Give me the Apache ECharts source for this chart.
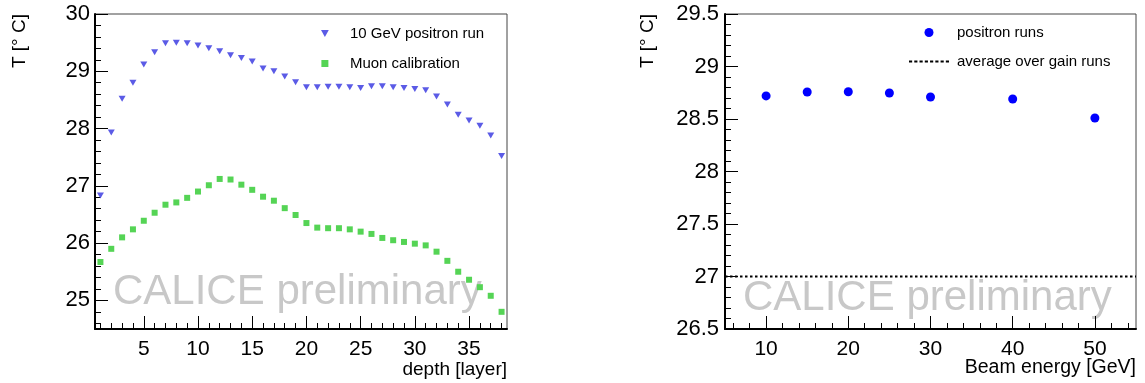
<!DOCTYPE html>
<html>
<head>
<meta charset="utf-8">
<script src="https://cdn.jsdelivr.net/npm/echarts@6/dist/echarts.min.js"></script>
<style>
  html, body { margin: 0; padding: 0; background: #fff; }
  #main { width: 1145px; height: 383px; }
</style>
</head>
<body>
<div id="main"></div>
<script>
// left panel: temperature per layer
const layers = [1, 2, 3, 4, 5, 6, 7, 8, 9, 10, 11, 12, 13, 14, 15, 16, 17, 18, 19, 20,
  21, 22, 23, 24, 25, 26, 27, 28, 29, 30, 31, 32, 33, 34, 35, 36, 37, 38]
const positronTemp = [26.83, 27.93, 28.52, 28.80, 29.12, 29.33, 29.49, 29.50, 29.49, 29.45,
  29.40, 29.35, 29.28, 29.23, 29.17, 29.05, 29.00, 28.91, 28.81, 28.72,
  28.72, 28.73, 28.73, 28.72, 28.71, 28.74, 28.74, 28.72, 28.71, 28.69,
  28.67, 28.56, 28.42, 28.24, 28.14, 28.05, 27.88, 27.52]
const muonTemp = [25.67, 25.90, 26.10, 26.24, 26.39, 26.53, 26.67, 26.71, 26.79, 26.90,
  27.01, 27.12, 27.11, 27.02, 26.93, 26.81, 26.74, 26.61, 26.49, 26.35,
  26.27, 26.26, 26.26, 26.24, 26.20, 26.16, 26.09, 26.05, 26.02, 25.99,
  25.96, 25.85, 25.69, 25.50, 25.36, 25.23, 25.08, 24.80]

// right panel: temperature per beam energy
const beamEnergy = [10, 15, 20, 25, 30, 40, 50]
const runTemp = [28.72, 28.757, 28.76, 28.748, 28.71, 28.69, 28.51]
const gainAverage = 27

// tick labels
const depthTicks = [5, 10, 15, 20, 25, 30, 35]
const leftTempTicks = [25, 26, 27, 28, 29, 30]
const energyTicks = [10, 20, 30, 40, 50]

const FONT = '"Liberation Sans", Arial, Helvetica, sans-serif'
const triDown = 'path://M0,0L10,0L5,9Z'
const square = 'path://M0,0h10v10h-10z'
const dots = 'path://M0,0h3v2h-3zM5,0h3v2h-3zM10,0h3v2h-3zM15,0h3v2h-3zM20,0h3v2h-3zM25,0h3v2h-3zM30,0h3v2h-3zM35,0h3v2h-3z'

// minor tick positions
const depthMinor = layers.slice()
const leftTempMinor = []
for (let v = 246; v <= 300; v += 2) leftTempMinor.push(v / 10)
const energyMinor = []
for (let v = 6; v <= 54; v += 2) energyMinor.push(v)

const majorAxis = function (extra) {
  return Object.assign({
    type: 'value',
    axisLine: { show: true, onZero: false, lineStyle: { color: '#000', width: 2 } },
    axisTick: { show: true, inside: true, length: 13, lineStyle: { color: '#000', width: 1 } },
    axisLabel: { color: '#000', fontSize: 21, fontFamily: FONT },
    splitLine: { show: false },
  }, extra)
}
const minorAxis = function (extra) {
  return Object.assign({
    type: 'value',
    axisLine: { show: false },
    axisLabel: { show: false },
    splitLine: { show: false },
  }, extra)
}

const chart = echarts.init(document.getElementById('main'), null, { renderer: 'canvas' })

const option = {
  backgroundColor: '#fff',
  animation: false,
  grid: [
    { left: 95, top: 14, width: 412, height: 315, show: true, borderColor: '#444', borderWidth: 1 },
    { left: 725, top: 14, width: 411, height: 315, show: true, borderColor: '#444', borderWidth: 1 },
  ],
  xAxis: [
    majorAxis({
      gridIndex: 0, position: 'bottom', min: 0.5, max: 38.5,
      axisTick: { show: true, inside: true, length: 13, customValues: depthTicks, lineStyle: { color: '#000' } },
      axisLabel: { color: '#000', fontSize: 21, fontFamily: FONT, margin: 10, customValues: depthTicks },
    }),
    minorAxis({
      gridIndex: 0, position: 'bottom', min: 0.5, max: 38.5,
      axisTick: { show: true, inside: true, length: 6, customValues: depthMinor, lineStyle: { color: '#000' } },
    }),
    majorAxis({
      gridIndex: 1, position: 'bottom', min: 5, max: 55,
      axisTick: { show: true, inside: true, length: 13, customValues: energyTicks, lineStyle: { color: '#000' } },
      axisLabel: { color: '#000', fontSize: 21, fontFamily: FONT, margin: 10, customValues: energyTicks },
    }),
    minorAxis({
      gridIndex: 1, position: 'bottom', min: 5, max: 55,
      axisTick: { show: true, inside: true, length: 6, customValues: energyMinor, lineStyle: { color: '#000' } },
    }),
  ],
  yAxis: [
    majorAxis({
      gridIndex: 0, position: 'left', min: 24.5, max: 30,
      axisTick: { show: true, inside: true, length: 13, customValues: leftTempTicks, lineStyle: { color: '#000' } },
      axisLabel: { color: '#000', fontSize: 22, fontFamily: FONT, margin: 5, customValues: leftTempTicks },
    }),
    minorAxis({
      gridIndex: 0, position: 'left', min: 24.5, max: 30,
      axisTick: { show: true, inside: true, length: 6, customValues: leftTempMinor, lineStyle: { color: '#000' } },
    }),
    majorAxis({
      gridIndex: 1, position: 'left', min: 26.5, max: 29.5, interval: 0.5,
      axisLabel: { color: '#000', fontSize: 22, fontFamily: FONT, margin: 6, showMinLabel: true, showMaxLabel: true },
      minorTick: { show: true, splitNumber: 5, length: 6, lineStyle: { color: '#000', width: 1 } },
    }),
  ],
  legend: [
    {
      orient: 'vertical', left: 321, top: 25, padding: 0, itemGap: 13,
      itemWidth: 40, itemHeight: 7,
      textStyle: { fontSize: 15, fontFamily: FONT, color: '#000', lineHeight: 17 },
      data: [
        { name: '10 GeV positron run', icon: triDown },
        { name: 'Muon calibration', icon: square },
      ],
    },
    {
      orient: 'vertical', left: 909, top: 24, padding: 0, itemGap: 12,
      itemWidth: 40, itemHeight: 9,
      textStyle: { fontSize: 15, fontFamily: FONT, color: '#000', lineHeight: 17, padding: [0, 0, 0, 3] },
      data: [
        { name: 'positron runs', icon: 'circle' },
        { name: 'average over gain runs', icon: dots },
      ],
    },
  ],
  graphic: [
    {
      type: 'text', z: 0, x: 113, y: 271,
      style: { text: 'CALICE preliminary', fill: '#c8c8c8', font: '42px ' + FONT, verticalAlign: 'top' },
    },
    {
      type: 'text', z: 0, x: 743, y: 277,
      style: { text: 'CALICE preliminary', fill: '#c8c8c8', font: '42px ' + FONT, verticalAlign: 'top' },
    },
    {
      type: 'text', x: 20, y: 14, rotation: Math.PI / 2,
      style: { text: 'T [° C]', fill: '#000', font: '19px ' + FONT, align: 'right', verticalAlign: 'middle' },
    },
    {
      type: 'text', x: 648, y: 14, rotation: Math.PI / 2,
      style: { text: 'T [° C]', fill: '#000', font: '19px ' + FONT, align: 'right', verticalAlign: 'middle' },
    },
    {
      type: 'text', x: 507, y: 370,
      style: { text: 'depth [layer]', fill: '#000', font: '19px ' + FONT, align: 'right', verticalAlign: 'middle' },
    },
    {
      type: 'text', x: 1136, y: 368,
      style: { text: 'Beam energy [GeV]', fill: '#000', font: '19.5px ' + FONT, align: 'right', verticalAlign: 'middle' },
    },
  ],
  series: [
    {
      name: '10 GeV positron run', type: 'scatter', xAxisIndex: 0, yAxisIndex: 0, z: 3,
      symbol: triDown, symbolSize: [7, 6],
      itemStyle: { color: '#5b5be6', opacity: 1 },
      data: layers.map((l, i) => [l, positronTemp[i]]),
    },
    {
      name: 'Muon calibration', type: 'scatter', xAxisIndex: 0, yAxisIndex: 0, z: 3,
      symbol: 'rect', symbolSize: 6,
      itemStyle: { color: '#55d455', opacity: 1 },
      data: layers.map((l, i) => [l, muonTemp[i]]),
    },
    {
      name: 'positron runs', type: 'scatter', xAxisIndex: 2, yAxisIndex: 2, z: 3,
      symbol: 'circle', symbolSize: 9,
      itemStyle: { color: '#0000ff', opacity: 1 },
      data: beamEnergy.map((e, i) => [e, runTemp[i]]),
    },
    {
      name: 'average over gain runs', type: 'line', xAxisIndex: 2, yAxisIndex: 2, z: 3,
      symbol: 'none', silent: true,
      itemStyle: { color: '#000' },
      lineStyle: { color: '#000', width: 2, type: [2.5, 2.5] },
      data: [[5, gainAverage], [55, gainAverage]],
    },
  ],
}

chart.setOption(option)
</script>
</body>
</html>
